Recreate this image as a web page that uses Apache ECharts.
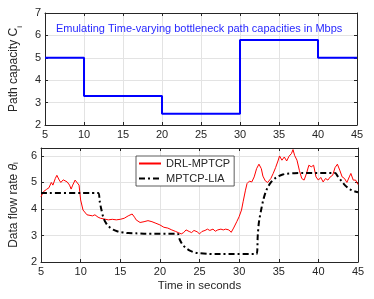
<!DOCTYPE html>
<html><head><meta charset="utf-8">
<script src="https://cdn.jsdelivr.net/npm/echarts@6/dist/echarts.min.js"></script>
<style>html,body{margin:0;padding:0;background:#fff}#c{width:374px;height:299px}</style>
</head><body><div id="c"></div>
<script>
const xTicks = [5,10,15,20,25,30,35,40,45];
const capTimes  = [5, 10, 20, 30, 40, 45];
const capValues = [5, 3.3, 2.5, 5.8, 5, 5];

const drlTimes = [5,5.3,5.7,6,6.3,6.5,6.8,7,7.3,7.5,7.8,8,8.3,8.6,8.8,9,9.3,9.5,9.8,10,10.3,10.5,10.8,11,11.5,11.8,12,12.2,12.5,13,13.5,14,14.5,15,15.5,16,16.5,16.8,17,17.5,18,18.5,19,19.5,20,20.5,21,21.5,22,22.3,22.7,23,23.3,23.7,24,24.3,24.7,25,25.3,25.7,26,26.3,26.7,27,27.3,27.7,28,28.3,28.7,29,29.3,29.7,30,30.3,30.5,30.8,31,31.3,31.6,31.9,32.2,32.5,32.8,33,33.3,33.6,34,34.3,34.6,34.9,35.1,35.4,35.7,36,36.3,36.6,36.8,37,37.3,37.6,37.9,38.2,38.5,38.8,39.1,39.4,39.7,40,40.3,40.6,40.9,41.2,41.5,41.8,42.1,42.4,42.7,43,43.3,43.6,43.9,44.1,44.4,44.7,45];
const drlValues = [4.46,4.65,4.74,4.8,5.0,4.9,5.15,5.27,5.09,5.0,5.1,5.15,5.02,4.9,4.75,4.9,5.09,5.14,4.9,4.34,3.96,3.9,3.78,3.78,3.74,3.78,3.84,3.69,3.65,3.62,3.59,3.61,3.59,3.61,3.65,3.74,3.81,3.69,3.59,3.49,3.52,3.56,3.52,3.46,3.4,3.31,3.28,3.21,3.15,3.11,3.06,3.11,3.21,3.15,3.11,3.19,3.14,3.06,3.15,3.19,3.24,3.19,3.24,3.16,3.21,3.24,3.21,3.24,3.21,3.12,3.28,3.52,3.71,3.96,4.27,4.71,4.96,5.05,5.02,5.21,5.52,5.69,5.52,5.24,5.06,5.0,5.15,5.34,5.56,5.81,6.0,5.84,5.96,5.81,5.99,6.09,6.24,6.02,5.84,5.46,5.15,5.09,5.34,5.65,5.59,5.65,5.21,5.09,5.19,5.02,5.15,5.09,5.21,5.27,5.56,5.69,5.46,5.21,5.15,5.0,5.21,5.34,5.09,5.09,4.92];

const liaTimes = [5,12.2,12.4,12.6,12.9,13.3,13.7,14.1,14.6,15,15.5,16,17,18,22.2,22.5,22.8,23.2,23.6,24,24.5,25,26,27,32.2,32.35,32.5,32.8,33.1,33.5,34,34.5,35,35.5,36,37,38,42.1,42.4,42.8,43.2,43.6,44,44.5,45];
const liaValues = [4.6,4.6,4.3,4.0,3.65,3.42,3.3,3.22,3.16,3.13,3.11,3.09,3.08,3.07,3.07,2.85,2.68,2.55,2.46,2.40,2.35,2.33,2.31,2.30,2.30,3.0,3.5,4.0,4.4,4.75,5.0,5.15,5.24,5.3,5.33,5.35,5.36,5.36,5.25,5.1,4.95,4.83,4.74,4.67,4.63];

const zip = (a,b)=>a.map((v,i)=>[v,b[i]]);
const FONT = 'Liberation Sans, Arial, sans-serif';
const TXT = '#262626';
const gridLine = {show:true, lineStyle:{color:'#e3e3e3', width:1}};
const axLine = {show:true, lineStyle:{color:TXT, width:1}};
const tick = {show:true, inside:true, length:3, lineStyle:{color:TXT}};
const lab = {color:TXT, fontSize:11, fontFamily:FONT, margin:4};

function xa(gi, pos){
  return {type:'value', gridIndex:gi, min:5, max:45, interval:5, position:pos,
    axisLine:axLine, axisTick:tick,
    axisLabel: pos==='bottom' ? lab : {show:false},
    splitLine: pos==='bottom' ? gridLine : {show:false}};
}
function ya(gi, pos, min, max, extra){
  return Object.assign({type:'value', gridIndex:gi, min:min, max:max, interval:1, position:pos,
    axisLine:axLine, axisTick:tick,
    axisLabel: pos==='left' ? Object.assign({}, lab, {formatter:v=>Number.isInteger(v)?String(v):''}) : {show:false},
    splitLine: pos==='left' ? gridLine : {show:false}}, extra||{});
}

const chart = echarts.init(document.getElementById('c'), null, {renderer:'canvas'});
chart.setOption({
  animation:false,
  backgroundColor:'#fff',
  title:{text:'Emulating Time-varying bottleneck path capacities in Mbps', left:51, top:18,
    textStyle:{color:'#2828ff', fontSize:11, fontWeight:'normal', fontFamily:FONT}},
  grid:[
    {left:41, right:17, top:13, height:112},
    {left:41, right:16, top:148, height:114}
  ],
  legend:{data:['DRL-MPTCP','MPTCP-LIA'], orient:'vertical', left:136, top:156,
    itemWidth:22, itemHeight:10, itemGap:4, padding:[2,4,2,2],
    itemStyle:{opacity:0, borderWidth:0},
    backgroundColor:'#fff', borderColor:'#333', borderWidth:0.8,
    textStyle:{color:TXT, fontSize:11, fontFamily:FONT}},
  xAxis:[xa(0,'bottom'), xa(0,'top'),
    Object.assign(xa(1,'bottom'), {name:'Time in seconds', nameLocation:'middle', nameGap:18,
      nameTextStyle:{color:TXT, fontSize:11.5, fontFamily:FONT}}), xa(1,'top')],
  yAxis:[
    ya(0,'left',2,7,{name:'Path capacity C{s|i}', nameLocation:'middle', nameGap:17,
      nameTextStyle:{color:TXT, fontSize:12, fontFamily:FONT, rich:{s:{fontSize:8, verticalAlign:'bottom', padding:[0,0,-4,0], color:TXT}}}}),
    ya(0,'right',2,7),
    ya(1,'left',2,6.3,{name:'Data flow rate {t|θ}{s|i}', nameLocation:'middle', nameGap:17,
      nameTextStyle:{color:TXT, fontSize:12, fontFamily:FONT, rich:{t:{fontStyle:'italic', fontSize:12, color:TXT}, s:{fontSize:8, padding:[0,0,-4,0], color:TXT}}}}),
    ya(1,'right',2,6.3)
  ],
  series:[
    {name:'capacity', type:'line', xAxisIndex:0, yAxisIndex:0, step:'end', symbol:'none',
      data:zip(capTimes, capValues), lineStyle:{color:'#0000ff', width:2}},
    {name:'DRL-MPTCP', type:'line', xAxisIndex:2, yAxisIndex:2, symbol:'none',
      data:zip(drlTimes, drlValues), lineStyle:{color:'#ff0000', width:1}, itemStyle:{color:'#ff0000'}},
    {name:'MPTCP-LIA', type:'line', xAxisIndex:2, yAxisIndex:2, symbol:'none', smooth:0.3,
      data:zip(liaTimes, liaValues), lineStyle:{color:'#000', width:2, type:[6,3,2,3]}, itemStyle:{color:'#000'}}
  ]
});
</script></body></html>
